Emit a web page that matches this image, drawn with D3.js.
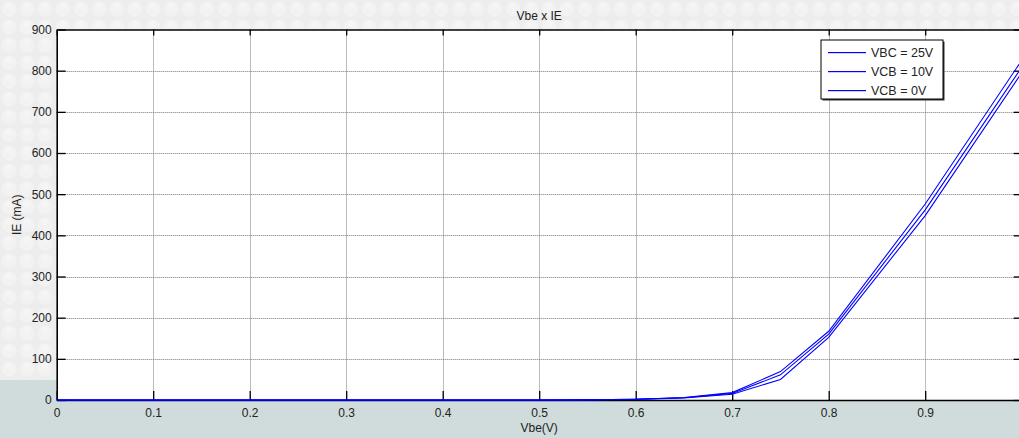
<!DOCTYPE html>
<html>
<head>
<meta charset="utf-8">
<script src="https://cdn.jsdelivr.net/npm/d3@7"></script>
<style>
  html, body { margin: 0; padding: 0; background: #ececec; }
  svg { display: block; font-family: "Liberation Sans", Arial, sans-serif; }
</style>
</head>
<body>
<script>
const vbe = [0, 0.1, 0.2, 0.3, 0.4, 0.5, 0.55, 0.6, 0.65, 0.7, 0.75, 0.8, 0.9, 1.0];
const ieVbc25 = [0, 0, 0, 0, 0, 0.1, 0.6, 2, 6, 18, 69, 167, 476, 825];
const ieVcb10 = [0, 0, 0, 0, 0, 0.1, 0.5, 1.8, 5.5, 16, 61, 160, 462, 808];
const ieVcb0 = [0, 0, 0, 0, 0, 0.1, 0.4, 1.5, 5, 14, 50, 152, 448, 795];
const seriesNames = ['VBC = 25V', 'VCB = 10V', 'VCB = 0V'];
const xTicks = [0, 0.1, 0.2, 0.3, 0.4, 0.5, 0.6, 0.7, 0.8, 0.9, 1.0];
const yTicks = [0, 100, 200, 300, 400, 500, 600, 700, 800, 900];

const W = 1019, H = 438;
const pLeft = 56.7, pRight = 1021.7, pTop = 29.5, pBottom = 400;

const svg = d3.select('body').append('svg')
    .attr('width', W)
    .attr('height', H);

// background pattern (faint grey bubbles) + bluish band at the bottom
const defs = svg.append('defs');
const pat = defs.append('pattern')
    .attr('id', 'bg')
    .attr('width', 18).attr('height', 18)
    .attr('patternUnits', 'userSpaceOnUse');
pat.append('rect').attr('width', 18).attr('height', 18).attr('fill', '#ededed');
pat.append('circle').attr('cx', 9).attr('cy', 9).attr('r', 7.5).attr('fill', '#f2f2f2');
pat.append('circle').attr('cx', 9).attr('cy', 6).attr('r', 3.5).attr('fill', '#f5f5f5');

defs.append('clipPath').attr('id', 'plotclip')
    .append('rect')
    .attr('x', pLeft).attr('y', pTop - 1)
    .attr('width', pRight - pLeft).attr('height', pBottom - pTop + 2);

svg.append('rect').attr('width', W).attr('height', H).attr('fill', 'url(#bg)');
svg.append('rect').attr('x', 0).attr('y', 380).attr('width', W).attr('height', H - 380).attr('fill', '#d0dcdc');

const x = d3.scaleLinear().domain([0, 1]).range([pLeft, pRight]);
const y = d3.scaleLinear().domain([0, 900]).range([pBottom, pTop]);

// plot area
svg.append('rect')
    .attr('x', pLeft).attr('y', pTop)
    .attr('width', pRight - pLeft).attr('height', pBottom - pTop)
    .attr('fill', '#fff');

// dotted grid
const grid = svg.append('g').attr('stroke', '#777').attr('stroke-width', 1)
    .attr('stroke-dasharray', '1,1');
grid.selectAll('.gx').data(xTicks.slice(1)).join('line')
    .attr('x1', d => Math.round(x(d)) + 0.5).attr('x2', d => Math.round(x(d)) + 0.5)
    .attr('y1', pTop).attr('y2', pBottom);
grid.selectAll('.gy').data(yTicks.slice(1, -1)).join('line')
    .attr('y1', d => Math.round(y(d)) + 0.5).attr('y2', d => Math.round(y(d)) + 0.5)
    .attr('x1', pLeft).attr('x2', pRight);

// axes (the "1" label lies past the window edge, so it is left out)
const fmt = d => d === 0 ? '0' : (d === 1 ? '' : d3.format('.1f')(d));
const xAxis = svg.append('g')
    .attr('transform', `translate(0,${pBottom})`)
    .call(d3.axisBottom(x).tickValues(xTicks).tickFormat(fmt).tickSize(-9).tickPadding(8).tickSizeOuter(0));
const xTop = svg.append('g')
    .attr('transform', `translate(0,${pTop})`)
    .call(d3.axisTop(x).tickValues(xTicks).tickFormat('').tickSize(-6).tickSizeOuter(0));
const yAxis = svg.append('g')
    .attr('transform', `translate(${pLeft},0)`)
    .call(d3.axisLeft(y).tickValues(yTicks).tickSize(-9).tickPadding(5).tickSizeOuter(0));
const yRight = svg.append('g')
    .attr('transform', `translate(${pRight},0)`)
    .call(d3.axisRight(y).tickValues(yTicks).tickFormat('').tickSize(-8).tickSizeOuter(0));

[xAxis, xTop, yAxis, yRight].forEach(g => {
    g.select('.domain').attr('stroke', '#000').attr('stroke-width', 1.6);
    g.selectAll('.tick line').attr('stroke', '#000').attr('stroke-width', 1.3);
    g.selectAll('.tick text').attr('fill', '#222').attr('font-size', 12)
        .attr('font-family', '"Liberation Sans", Arial, sans-serif');
});

// curves
const line = d3.line()
    .x((d, i) => x(vbe[i]))
    .y(d => y(d));

svg.append('g').attr('clip-path', 'url(#plotclip)')
    .selectAll('path')
    .data([ieVbc25, ieVcb10, ieVcb0])
    .join('path')
    .attr('fill', 'none')
    .attr('stroke', '#0000ff')
    .attr('stroke-width', 1.1)
    .attr('d', line);

// titles
svg.append('text')
    .attr('x', x(0.5)).attr('y', 20)
    .attr('text-anchor', 'middle')
    .attr('font-size', 12).attr('fill', '#222')
    .text('Vbe x IE');

svg.append('text')
    .attr('x', x(0.5)).attr('y', 432)
    .attr('text-anchor', 'middle')
    .attr('font-size', 12).attr('fill', '#222')
    .text('Vbe(V)');

svg.append('text')
    .attr('transform', `translate(21,${(pTop + pBottom) / 2}) rotate(-90)`)
    .attr('text-anchor', 'middle')
    .attr('font-size', 12).attr('fill', '#222')
    .text('IE (mA)');

// legend
const lg = svg.append('g').attr('transform', 'translate(821,40)');
lg.append('rect')
    .attr('x', 1.5).attr('y', 1.5)
    .attr('width', 122).attr('height', 59)
    .attr('fill', '#333');
lg.append('rect')
    .attr('width', 122).attr('height', 59)
    .attr('fill', '#fff').attr('stroke', '#000').attr('stroke-width', 1);
const rows = lg.selectAll('.row').data(seriesNames).join('g')
    .attr('class', 'row')
    .attr('transform', (d, i) => `translate(0,${12 + i * 19})`);
rows.append('rect')
    .attr('x', 7).attr('y', 0)
    .attr('width', 38).attr('height', 1.2)
    .attr('fill', '#0000ff');
rows.append('text')
    .attr('x', 50).attr('y', 5)
    .attr('font-size', 12.5).attr('fill', '#222')
    .text(d => d);
</script>
</body>
</html>
